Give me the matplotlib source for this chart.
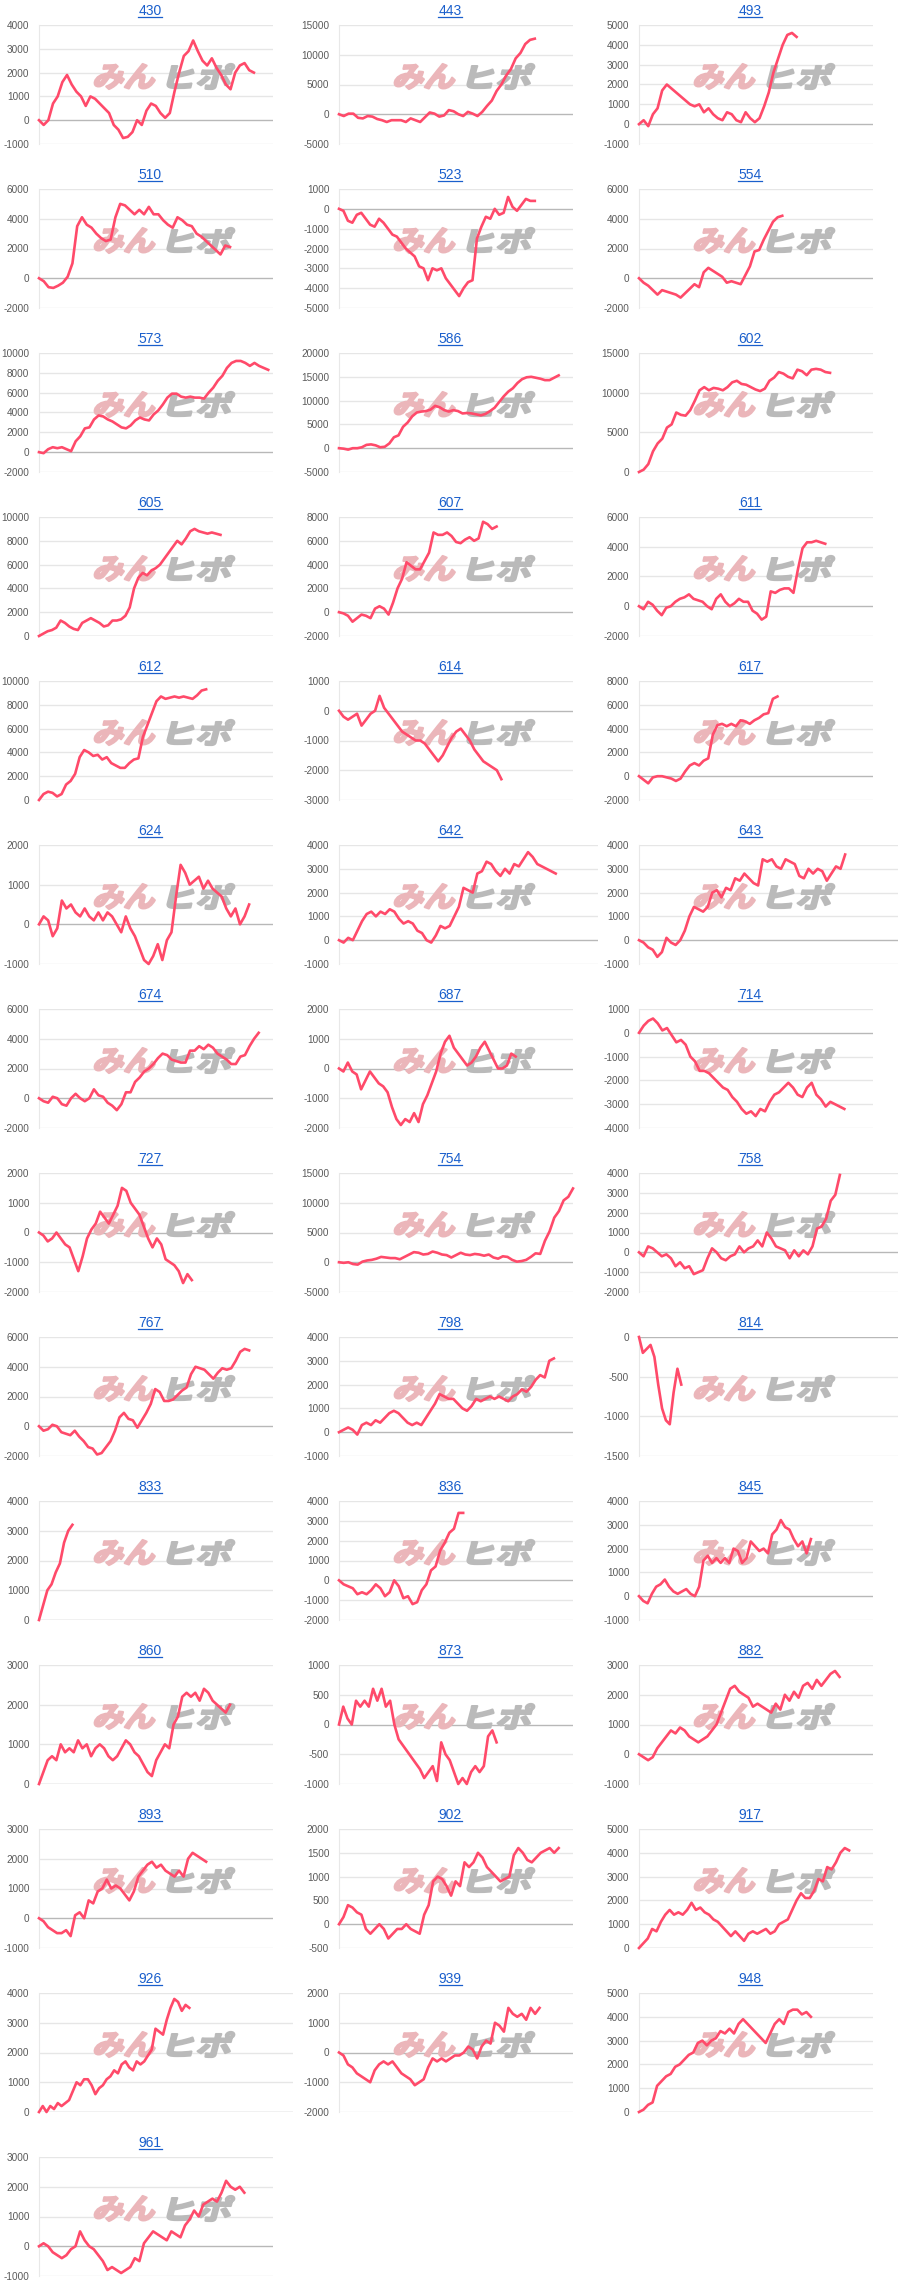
import numpy as np
import matplotlib
matplotlib.use('Agg')
import matplotlib.pyplot as plt
from matplotlib.font_manager import FontProperties
from matplotlib.textpath import TextPath
from matplotlib.patches import PathPatch
from matplotlib.transforms import Affine2D, IdentityTransform
from matplotlib.lines import Line2D

plt.rcParams['font.family'] = ['Liberation Sans', 'DejaVu Sans']

# panel titles, y-axis ticks (min, max, step) and last day of each series
titles = ['430', '443', '493', '510', '523', '554', '573', '586', '602', '605',
          '607', '611', '612', '614', '617', '624', '642', '643', '674', '687',
          '714', '727', '754', '758', '767', '798', '814', '833', '836', '845',
          '860', '873', '882', '893', '902', '917', '926', '939', '948', '961']

y_ticks = [(-1000, 4000, 1000), (-5000, 15000, 5000), (-1000, 5000, 1000),
           (-2000, 6000, 2000), (-5000, 1000, 1000), (-2000, 6000, 2000),
           (-2000, 10000, 2000), (-5000, 20000, 5000), (0, 15000, 5000),
           (0, 10000, 2000), (-2000, 8000, 2000), (-2000, 6000, 2000),
           (0, 10000, 2000), (-3000, 1000, 1000), (-2000, 8000, 2000),
           (-1000, 2000, 1000), (-1000, 4000, 1000), (-1000, 4000, 1000),
           (-2000, 6000, 2000), (-2000, 2000, 1000), (-4000, 1000, 1000),
           (-2000, 2000, 1000), (-5000, 15000, 5000), (-2000, 4000, 1000),
           (-2000, 6000, 2000), (-1000, 4000, 1000), (-1500, 0, 500),
           (0, 4000, 1000), (-2000, 4000, 1000), (-1000, 4000, 1000),
           (0, 3000, 1000), (-1000, 1000, 500), (-1000, 3000, 1000),
           (-1000, 3000, 1000), (-500, 2000, 500), (0, 5000, 1000),
           (0, 4000, 1000), (-2000, 2000, 1000), (0, 5000, 1000),
           (-1000, 3000, 1000)]

last_day = [45, 41, 33, 40, 41, 30, 48, 46, 40, 38,
            33, 39, 35, 34, 29, 44, 41, 39, 46, 37,
            43, 32, 49, 38, 44, 45, 8, 7, 26, 36,
            40, 33, 42, 35, 46, 44, 29, 42, 36, 43]
total_days = 49

s430 = [0, -200, 0, 700, 1000, 1600, 1900, 1500, 1200, 1000, 600, 1000, 900, 700, 500, 300, -200, -400, -750, -700,
        -500, 0, -200, 400, 700, 600, 300, 100, 300, 1200, 2000, 2700, 2900, 3350, 2900, 2500, 2300, 2600, 2200,
        1900, 1500, 1300, 2000, 2300, 2400, 2100, 2000]
s443 = [0, -300, 100, 100, -600, -700, -300, -400, -800, -1000, -1300, -1000, -1000, -1000, -1300, -700, -1000,
        -1300, -500, 300, 100, -400, -200, 700, 500, 0, -300, 400, 100, -300, 400, 1400, 2300, 3900, 5000, 6500,
        7600, 9400, 10300, 11800, 12500, 12700]
s493 = [0, 200, -100, 500, 800, 1700, 2000, 1800, 1600, 1400, 1200, 1000, 900, 1000, 600, 800, 500, 300, 200, 600,
        500, 200, 100, 600, 300, 100, 300, 900, 1600, 2600, 3300, 4000, 4500, 4600, 4400]
s510 = [0, -200, -600, -650, -500, -300, 100, 1000, 3500, 4100, 3600, 3400, 3000, 2700, 2500, 2600, 4100, 5000,
        4900, 4600, 4300, 4600, 4300, 4800, 4300, 4300, 3900, 3600, 3400, 4100, 3900, 3600, 3500, 3000, 2800, 2500,
        2200, 1900, 1600, 2200, 2100]
s523 = [0, -100, -600, -700, -300, -200, -500, -800, -900, -500, -700, -1000, -1300, -1400, -1700, -2000, -2200,
        -2400, -2900, -3000, -3600, -3000, -3100, -3000, -3500, -3800, -4100, -4400, -4000, -3700, -3600, -1500,
        -900, -400, -500, 0, -300, -200, 600, 100, -100, 200, 500, 400, 400]
s554 = [0, -300, -500, -800, -1100, -800, -900, -1000, -1100, -1300, -1000, -700, -400, -600, 400, 700, 500, 300,
        100, -300, -200, -300, -400, 200, 800, 1800, 1900, 2600, 3200, 3800, 4100, 4200]
s573 = [0, -100, 300, 500, 400, 500, 300, 100, 1100, 1600, 2400, 2500, 3300, 3700, 3600, 3300, 3100, 2800, 2500,
        2400, 2700, 3200, 3500, 3300, 3200, 3800, 4200, 4800, 5500, 5900, 5900, 5600, 5500, 5600, 5500, 5500, 5400,
        6000, 6500, 7200, 7700, 8500, 9000, 9200, 9200, 9000, 8700, 9000, 8700, 8500, 8300]
s586 = [0, -100, -300, 0, 0, 200, 700, 800, 600, 200, 300, 1000, 2300, 2700, 4500, 5400, 6700, 7500, 7700, 7800,
        8100, 8900, 8600, 8000, 7700, 8000, 7800, 7300, 7400, 7300, 7100, 6900, 7200, 7800, 8500, 9700, 10900,
        11900, 12600, 13700, 14500, 14900, 15000, 14800, 14600, 14300, 14300, 14800, 15300]
s602 = [0, 300, 1000, 2600, 3600, 4200, 5600, 6000, 7500, 7200, 7100, 7800, 9000, 10300, 10700, 10300, 10600,
        10500, 10300, 10700, 11300, 11500, 11100, 11000, 10700, 10400, 10200, 10500, 11500, 11900, 12600, 12400,
        12000, 11800, 12900, 12700, 12200, 12900, 13000, 12900, 12600, 12500]
s605 = [0, 200, 400, 500, 700, 1300, 1100, 800, 600, 500, 1100, 1300, 1500, 1300, 1100, 800, 900, 1300, 1300, 1400,
        1700, 2400, 4000, 4900, 5300, 5100, 5500, 5700, 6000, 6500, 7000, 7500, 8000, 7700, 8200, 8800, 9000, 8800,
        8700, 8600, 8700, 8600, 8500]
s607 = [0, -100, -300, -800, -500, -200, -300, -500, 300, 500, 300, -200, 800, 2000, 2800, 4200, 3900, 3600, 3600,
        4300, 5000, 6700, 6500, 6500, 6700, 6400, 5900, 5800, 6100, 6300, 6000, 6200, 7600, 7400, 7000, 7200]
s611 = [0, -200, 300, 100, -300, -600, -100, 0, 300, 500, 600, 800, 500, 400, 300, 0, -200, 500, 800, 300, 0, 200,
        500, 300, 300, -300, -500, -900, -700, 1000, 900, 1100, 1200, 1200, 900, 2500, 3900, 4300, 4300, 4400, 4300,
        4200]
s612 = [0, 500, 700, 600, 300, 500, 1300, 1600, 2200, 3600, 4200, 4000, 3700, 3800, 3400, 3600, 3100, 2900, 2700,
        2700, 3100, 3400, 3500, 5300, 6300, 7300, 8300, 8700, 8500, 8600, 8700, 8600, 8700, 8600, 8500, 8800, 9200,
        9300]
s614 = [0, -200, -300, -200, -100, -500, -300, -100, 0, 500, 100, -100, -300, -500, -700, -800, -900, -1000, -1000,
        -1100, -1300, -1500, -1700, -1500, -1200, -900, -700, -600, -800, -1000, -1300, -1500, -1700, -1800, -1900,
        -2000, -2300]
s617 = [0, -300, -600, -100, 0, 0, -100, -200, -400, -200, 400, 900, 1100, 900, 1300, 1500, 3500, 4300, 4400, 4200,
        4400, 4200, 4700, 4600, 4400, 4700, 4900, 5200, 5300, 6500, 6700]
s624 = [0, 200, 100, -300, -100, 600, 400, 500, 300, 200, 400, 200, 100, 300, 100, 300, 200, 0, -200, 200, -100,
        -300, -600, -900, -1000, -800, -500, -900, -400, -200, 700, 1500, 1300, 1000, 1100, 1200, 900, 1100, 900,
        800, 700, 400, 200, 400, 0, 200, 500]
s642 = [0, -100, 100, 0, 400, 800, 1100, 1200, 1000, 1200, 1100, 1300, 1200, 900, 700, 800, 700, 400, 300, 0, -100,
        200, 600, 500, 600, 1000, 1400, 2200, 2100, 2000, 2800, 2900, 3300, 3200, 2900, 2700, 3000, 2800, 3200, 3100,
        3400, 3700, 3500, 3200, 3100, 3000, 2900, 2800]
s643 = [0, -100, -300, -400, -700, -500, 100, -100, -200, 0, 400, 1000, 1400, 1300, 1200, 1400, 2000, 2100, 1800,
        2200, 2100, 2600, 2500, 2800, 2600, 2400, 2300, 3400, 3300, 3400, 3100, 3000, 3400, 3300, 3200, 2700, 2600,
        3000, 2800, 3000, 2900, 2500, 2800, 3100, 3000, 3600]
s674 = [0, -200, -300, 100, 0, -400, -500, 0, 300, 0, -200, 0, 600, 200, 100, -300, -500, -800, -400, 400, 400, 1100,
        1400, 1800, 2000, 2300, 2700, 3000, 2900, 2600, 2500, 2400, 2400, 3200, 3200, 3500, 3300, 3600, 3400, 3000,
        2800, 2600, 2300, 2300, 2800, 2900, 3500, 4000, 4400]
s687 = [0, -100, 200, -100, -200, -700, -400, -100, -300, -500, -600, -800, -1300, -1700, -1900, -1700, -1800,
        -1500, -1800, -1200, -900, -500, -100, 500, 900, 1100, 700, 500, 300, 100, 200, 400, 700, 900, 600, 300, 0, 0,
        100, 500, 400]
s714 = [0, 300, 500, 600, 400, 100, 200, -100, -400, -300, -500, -1000, -1200, -1600, -1600, -1700, -1900, -2100,
        -2300, -2400, -2700, -2900, -3200, -3400, -3300, -3500, -3200, -3300, -2900, -2600, -2500, -2300, -2100,
        -2300, -2600, -2700, -2300, -2100, -2600, -2800, -3100, -2900, -3000, -3100, -3200]
s727 = [0, -100, -300, -200, 0, -200, -400, -500, -900, -1300, -800, -200, 100, 300, 700, 500, 300, 600, 900, 1500,
        1400, 1000, 800, 600, 200, -200, -500, -200, -400, -900, -1000, -1100, -1300, -1700, -1400, -1600]
s754 = [0, -100, 0, -300, -400, 100, 300, 400, 600, 900, 800, 700, 700, 500, 900, 1300, 1700, 1600, 1300, 1400,
        1800, 1600, 1300, 1200, 800, 1200, 1600, 1300, 1200, 1400, 1300, 1100, 1300, 800, 600, 1000, 900, 400, 100,
        200, 400, 900, 1500, 1400, 3600, 5200, 7500, 8600, 10400, 11000, 12400]
s758 = [0, -200, 300, 200, 0, -200, -100, -300, -700, -500, -800, -700, -1100, -1000, -900, -300, 200, 0, -300,
        -400, -200, -100, 300, 0, 200, 300, 600, 300, 1000, 700, 300, 200, 100, -300, 100, -200, 100, -100, 300,
        1200, 1300, 1700, 2600, 2900, 3900]
s767 = [0, -300, -200, 100, 0, -400, -500, -600, -300, -700, -1000, -1400, -1500, -1900, -1800, -1400, -1000, -300,
        600, 900, 500, 400, -100, 400, 900, 1500, 2500, 2300, 1700, 1700, 1800, 2100, 2400, 2600, 3500, 4000, 3900,
        3800, 3500, 3200, 3600, 3900, 3800, 3900, 4400, 5000, 5200, 5100]
s798 = [0, 100, 200, 100, -100, 300, 400, 300, 500, 400, 600, 800, 900, 800, 600, 400, 300, 400, 300, 600, 900,
        1200, 1600, 1500, 1400, 1400, 1200, 1000, 900, 1100, 1400, 1300, 1400, 1500, 1400, 1500, 1400, 1300, 1500,
        1600, 1800, 1700, 1900, 2200, 2400, 2300, 3000, 3100]
s814 = [0, -200, -150, -100, -250, -600, -900, -1050, -1100, -700, -400, -600]
s833 = [0, 500, 1000, 1200, 1600, 1900, 2600, 3000, 3200]
s836 = [0, -200, -300, -400, -700, -600, -700, -500, -200, -400, -800, -600, 0, -300, -900, -800, -1200, -1100,
        -500, -200, 500, 700, 1500, 1900, 2400, 2600, 3400, 3400]
s845 = [0, -200, -300, 100, 400, 500, 700, 400, 200, 100, 200, 300, 100, 0, 400, 1500, 1700, 1400, 1600, 1400, 1600,
        1400, 2000, 1900, 1400, 1600, 2300, 2100, 1900, 2000, 1800, 2600, 2800, 3200, 2900, 2800, 2400, 2100, 2300,
        1800, 2400]
s860 = [0, 300, 600, 700, 600, 1000, 800, 900, 800, 1100, 900, 1000, 700, 900, 1000, 900, 700, 600, 700, 900, 1100,
        1000, 800, 700, 500, 300, 200, 600, 800, 1000, 900, 1500, 1700, 2200, 2300, 2200, 2300, 2100, 2400, 2300,
        2100, 2000, 1900, 1800, 2000]
s873 = [0, 300, 100, 0, 400, 300, 400, 300, 600, 400, 600, 300, 400, 0, -250, -350, -450, -550, -650, -750, -900,
        -800, -700, -950, -300, -500, -600, -800, -1000, -900, -1000, -800, -700, -800, -700, -200, -100, -300]
s882 = [0, -100, -200, -100, 200, 400, 600, 800, 700, 900, 800, 600, 500, 400, 500, 600, 800, 1000, 1400, 1800,
        2200, 2300, 2100, 2000, 1900, 1600, 1700, 1600, 1500, 1400, 1700, 1500, 2000, 1800, 2100, 1900, 2300, 2400,
        2200, 2500, 2300, 2500, 2700, 2800, 2600]
s893 = [0, -100, -300, -400, -500, -500, -400, -600, 100, 200, 0, 600, 500, 900, 1000, 1300, 1000, 1100, 1000, 800,
        600, 900, 1400, 1600, 1800, 1900, 1700, 1800, 1600, 1500, 1400, 1600, 1400, 2000, 2200, 2100, 2000, 1900]
s902 = [0, 150, 400, 350, 250, 200, -100, -200, -100, 0, -100, -300, -200, -100, -100, 0, -100, -150, -200, 200,
        400, 900, 1000, 950, 800, 600, 900, 800, 1300, 1200, 1300, 1500, 1400, 1200, 1100, 1000, 900, 950, 1000,
        1450, 1600, 1500, 1350, 1300, 1400, 1500, 1550, 1600, 1500, 1600]
s917 = [0, 200, 400, 800, 700, 1100, 1400, 1600, 1400, 1500, 1400, 1600, 1900, 1600, 1700, 1500, 1400, 1200, 1100,
        900, 700, 500, 700, 500, 300, 600, 700, 600, 700, 800, 600, 700, 1000, 1100, 1200, 1600, 2000, 2300, 2100,
        2100, 2400, 2900, 2800, 3400, 3300, 3600, 4000, 4200, 4100]
s926 = [0, 200, 0, 200, 100, 300, 200, 300, 400, 700, 1000, 900, 1100, 1100, 900, 600, 800, 900, 1100, 1200, 1400,
        1300, 1600, 1700, 1500, 1400, 1700, 1600, 1700, 1900, 2100, 2800, 2700, 2600, 3100, 3500, 3800, 3700, 3400,
        3600, 3500]
s939 = [0, -100, -400, -500, -700, -800, -900, -1000, -600, -400, -300, -400, -300, -500, -700, -800, -900, -1100,
        -1000, -900, -500, -200, -300, -200, -300, -200, -100, -100, 0, 200, 100, -200, 200, 400, 300, 1000, 900,
        700, 1500, 1300, 1200, 1300, 1100, 1500, 1300, 1500]
s948 = [0, 100, 300, 400, 1100, 1300, 1500, 1600, 1900, 2000, 2200, 2400, 2500, 2900, 3000, 2800, 3000, 3100, 3400,
        3300, 3500, 3300, 3700, 3900, 3700, 3500, 3300, 3100, 2900, 3300, 3700, 3900, 3700, 4200, 4300, 4300, 4100,
        4200, 4000]
s961 = [0, 100, 0, -200, -300, -400, -300, -100, 0, 500, 200, 0, -100, -300, -500, -800, -700, -800, -900, -800,
        -700, -400, -500, 100, 300, 500, 400, 300, 200, 500, 400, 300, 700, 900, 1200, 1000, 1400, 1500, 1600, 1500,
        1800, 2200, 2000, 1900, 2000, 1800]

series = [s430, s443, s493, s510, s523, s554, s573, s586, s602, s605,
          s607, s611, s612, s614, s617, s624, s642, s643, s674, s687,
          s714, s727, s754, s758, s767, s798, s814, s833, s836, s845,
          s860, s873, s882, s893, s902, s917, s926, s939, s948, s961]

# a few charts have a wider plot area in the original page
wide = {'642': 298, '643': 298, '758': 298, '814': 298, '926': 293}

W, H = 900, 2296
ROW = 164
fig = plt.figure(figsize=(W / 100, H / 100), dpi=100)
fig.patch.set_facecolor('white')

cjk = FontProperties(family='Noto Sans CJK JP', weight='bold')
line_color = '#ff4a6a'
grid_color = '#e6e6e6'


def wm_patch(text, x0, y_top, w, h, color):
    # watermark glyphs, stretched into a pixel box and slanted
    tp = TextPath((0, 0), text, size=100, prop=cjk)
    ext = tp.get_extents()
    slant = 0.26
    tr = (Affine2D().translate(-ext.x0, -ext.y0)
          .scale((w - slant * h) / ext.width, h / ext.height)
          .skew(np.arctan(slant), 0)
          .translate(x0, H - y_top - h))
    return PathPatch(tr.transform_path(tp), facecolor=color, edgecolor=color, lw=1.6,
                     joinstyle='round', transform=IdentityTransform(), clip_on=False, zorder=1.5)


titles_txt = []
for i, name in enumerate(titles):
    r, c = divmod(i, 3)
    left = 39 + 300 * c
    right = wide.get(name, 273) + 300 * c
    top = 25 + ROW * r
    bottom = 144 + ROW * r
    ax = fig.add_axes([left / W, (H - bottom) / H, (right - left) / W, (bottom - top) / H])
    ax.set_facecolor('none')

    lo, hi, step = y_ticks[i]
    ticks = np.arange(lo, hi + step, step)
    ax.set_ylim(lo, hi)
    ax.set_xlim(0, total_days)
    ax.set_yticks(ticks)
    ax.set_yticklabels([str(int(t)) for t in ticks], fontsize=7.2, color='#5a5a5a')
    ax.set_xticks([])
    ax.tick_params(axis='y', length=0, pad=7)
    ax.set_axisbelow(True)
    for t in ticks:
        ax.axhline(t, color='#b8b8b8' if t == 0 else grid_color, lw=1.0, zorder=0.5)
    for s in ['top', 'right', 'bottom']:
        ax.spines[s].set_visible(False)
    ax.spines['left'].set_color('#e8e8e8')
    ax.spines['left'].set_linewidth(0.8)

    vals = series[i]
    x = np.linspace(0, last_day[i], len(vals))
    ax.plot(x, vals, color=line_color, lw=1.9, solid_joinstyle='round', zorder=3, clip_on=False)

    px0 = 300 * c
    ax.add_patch(wm_patch('みん', px0 + 93, ROW * r + 64, 66, 25, '#ebb6ba'))
    ax.add_patch(wm_patch('ヒポ', px0 + 166, ROW * r + 64, 69, 25, '#bababa'))

    t = fig.text((150 + 300 * c) / W, (H - (ROW * r + 14.6)) / H, name, ha='center',
                 va='baseline', fontsize=10, color='#1a5fcc')
    titles_txt.append((t, r))

fig.canvas.draw()
for t, r in titles_txt:
    bb = t.get_window_extent()
    yy = (H - (ROW * r + 16.6)) / H
    fig.add_artist(Line2D([bb.x0 / W, bb.x1 / W], [yy, yy], transform=fig.transFigure,
                          color='#1a5fcc', lw=0.9))

fig.savefig('out.png', dpi=100)
